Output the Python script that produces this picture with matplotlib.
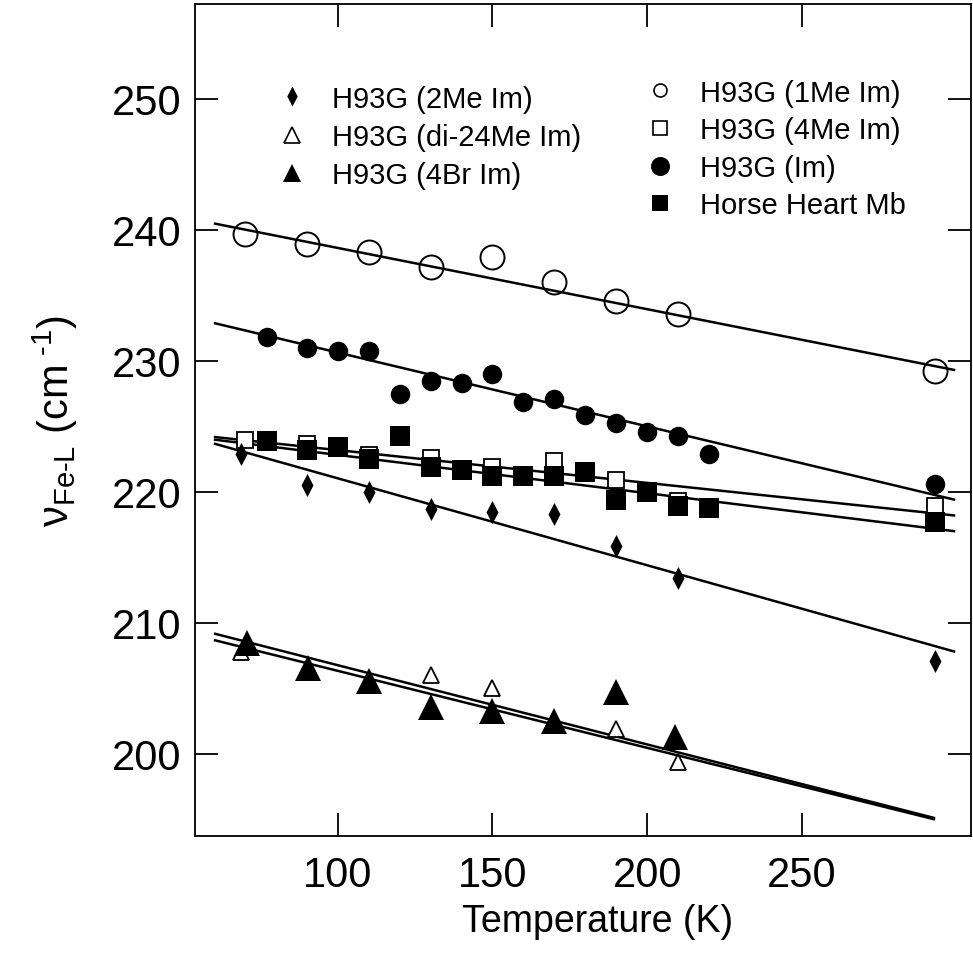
import matplotlib
matplotlib.use('Agg')
import matplotlib.pyplot as plt
from matplotlib.lines import Line2D
from matplotlib.path import Path

plt.rcParams['font.family'] = ['Liberation Sans', 'DejaVu Sans']
plt.rcParams['mathtext.fontset'] = 'custom'
plt.rcParams['mathtext.rm'] = 'Liberation Sans'
plt.rcParams['mathtext.it'] = 'Liberation Sans:italic'
plt.rcParams['mathtext.bf'] = 'Liberation Sans:bold'

# ---------------- data ----------------
T_1me = [70, 90, 110, 130, 150, 170, 190, 210, 293]
v_1me = [239.7, 238.9, 238.3, 237.2, 237.9, 236.0, 234.6, 233.6, 229.2]

T_im = [77, 90, 100, 110, 120, 130, 140, 150, 160, 170, 180, 190, 200, 210, 220, 293]
v_im = [231.8, 231.0, 230.8, 230.8, 227.5, 228.5, 228.3, 229.0, 226.9, 227.1,
        225.9, 225.3, 224.6, 224.3, 222.9, 220.6]

T_4me = [70, 90, 110, 130, 150, 170, 190, 210, 293]
v_4me = [224.0, 223.7, 222.8, 222.6, 221.9, 222.4, 220.9, 219.3, 218.9]

T_hh = [77, 90, 100, 110, 120, 130, 140, 150, 160, 170, 180, 190, 200, 210, 220, 293]
v_hh = [223.9, 223.2, 223.4, 222.5, 224.3, 221.9, 221.7, 221.25, 221.2, 221.2,
        221.5, 219.4, 220.0, 218.9, 218.8, 217.7]

T_2me = [68.6, 90, 110, 130, 150, 170, 190, 210, 293]
v_2me = [222.9, 220.5, 220.0, 218.7, 218.5, 218.3, 215.9, 213.4, 207.1]

T_4br = [70.7, 90.5, 110, 130, 150, 170, 190, 209]
v_4br = [208.5, 206.6, 205.6, 203.6, 203.3, 202.5, 204.7, 201.3]

T_di = [68.6, 130, 150, 190, 210]
v_di = [207.8, 206.0, 205.0, 201.9, 199.4]

# linear-fit lines: (temperature end points, wavenumber end points)
fit_T = [60, 299.5]
fit_T_tri = [60, 293]
fit_1me = [240.5, 229.3]
fit_im = [232.9, 219.4]
fit_4me = [224.2, 218.2]
fit_hh = [224.0, 217.0]
fit_2me = [223.7, 207.8]
fit_4br = [209.2, 195.1]
fit_di = [208.7, 195.0]

labels_left = ['H93G (2Me Im)', 'H93G (di-24Me Im)', 'H93G (4Br Im)']
labels_right = ['H93G (1Me Im)', 'H93G (4Me Im)', 'H93G (Im)', 'Horse Heart Mb']

xticks = [100, 150, 200, 250]
yticks = [200, 210, 220, 230, 240, 250]

# ---------------- figure ----------------
W, H = 973, 954
fig = plt.figure(figsize=(W / 100, H / 100), dpi=100)
ax = fig.add_axes([195 / W, 1 - 837 / H, 776 / W, 832 / H])

thin_diamond = Path([(0, 1), (0.52, 0), (0, -1), (-0.52, 0), (0, 1)],
                    [Path.MOVETO, Path.LINETO, Path.LINETO, Path.LINETO, Path.CLOSEPOLY])

px = 0.72  # points per pixel
lw = 1.8

for fy, ft in [(fit_1me, fit_T), (fit_im, fit_T), (fit_4me, fit_T), (fit_hh, fit_T),
               (fit_2me, fit_T), (fit_4br, fit_T_tri), (fit_di, fit_T_tri)]:
    ax.plot(ft, fy, color='k', lw=lw, solid_capstyle='butt', zorder=2)

# open markers first
ax.plot(T_1me, v_1me, ls='none', marker='o', ms=24 * px, mfc='none', mec='k', mew=1.4, zorder=3)
ax.plot(T_4me, v_4me, ls='none', marker='s', ms=15.5 * px, mfc='white', mec='k', mew=1.3, zorder=3)
ax.plot(T_di, v_di, ls='none', marker='^', ms=16.5 * px, mfc='white', mec='k', mew=1.3, zorder=3)
# filled markers
ax.plot(T_im, v_im, ls='none', marker='o', ms=19.5 * px, color='k', mew=0, zorder=4)
ax.plot(T_hh, v_hh, ls='none', marker='s', ms=20 * px, color='k', mew=0, zorder=4)
ax.plot(T_2me, v_2me, ls='none', marker=thin_diamond, ms=23 * px, color='k', mew=0, zorder=4)
ax.plot(T_4br, v_4br, ls='none', marker='^', ms=25.5 * px, color='k', mew=0, zorder=4)

ax.set_xlim(53.9, 304.6)
ax.set_ylim(193.74, 257.25)
ax.set_xticks(xticks)
ax.set_yticks(yticks)
ax.tick_params(direction='in', length=16.5, width=1.3, top=True, right=True,
               labelsize=30, pad=9.5, color='k')
ax.tick_params(axis='x', pad=14)
for s in ax.spines.values():
    s.set_linewidth(1.3)

ax.set_xlabel('Temperature (K)', fontsize=27)
ax.xaxis.set_label_coords((597.5 - 195) / 776, (837 - 904) / 832)
ax.set_ylabel(r'ν$_{\mathregular{Fe\text{-}L}}$ (cm$^{\ \text{-}1}$)', fontsize=30)
ax.yaxis.set_label_coords(-0.148, 0.5)

# ---------------- legends ----------------
h_left = [
    Line2D([], [], ls='none', marker=thin_diamond, ms=20 * px, color='k', mew=0),
    Line2D([], [], ls='none', marker='^', ms=16 * px, mfc='white', mec='k', mew=1.2),
    Line2D([], [], ls='none', marker='^', ms=18 * px, color='k', mew=0),
]
h_right = [
    Line2D([], [], ls='none', marker='o', ms=13 * px, mfc='none', mec='k', mew=1.2),
    Line2D([], [], ls='none', marker='s', ms=13.5 * px, mfc='white', mec='k', mew=1.2),
    Line2D([], [], ls='none', marker='o', ms=19 * px, color='k', mew=0),
    Line2D([], [], ls='none', marker='s', ms=16 * px, color='k', mew=0),
]
common = dict(loc='upper left', bbox_transform=fig.transFigure, frameon=False,
              fontsize=21, handlelength=1.0, handletextpad=0.85,
              borderpad=0, borderaxespad=0, numpoints=1)
leg1 = ax.legend(h_left, labels_left, bbox_to_anchor=(277.75 / W, 1 - 85.6 / H),
                 labelspacing=0.35, **common)
ax.add_artist(leg1)
leg2 = ax.legend(h_right, labels_right, bbox_to_anchor=(645.75 / W, 1 - 79.6 / H),
                 labelspacing=0.33, **common)

fig.savefig('out.png', dpi=100)
